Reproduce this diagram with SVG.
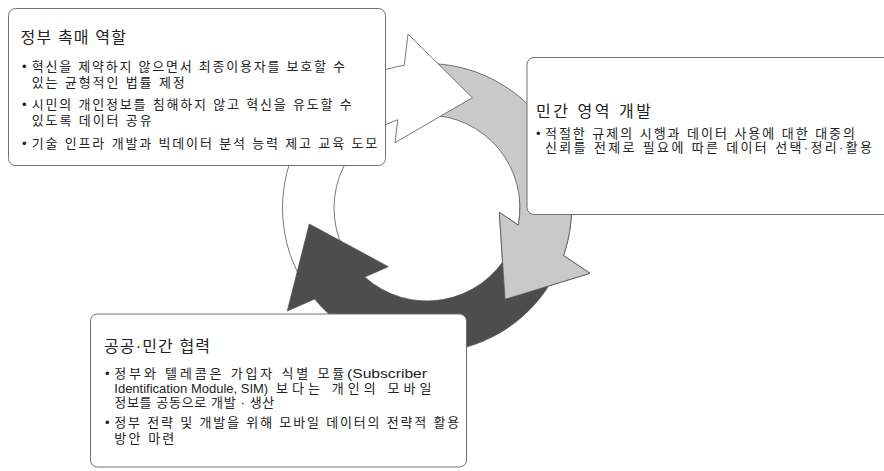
<svg xmlns="http://www.w3.org/2000/svg" width="884" height="471" viewBox="0 0 884 471">
<defs>
<style>
.box{fill:#ffffff;stroke:#707070;stroke-width:1}
.t{font-family:"Liberation Sans","Noto Sans CJK KR",sans-serif;fill:#222222}
.title{font-size:16px}
.body{font-size:13px}
.arr{stroke:#555555;stroke-width:0.8;stroke-linejoin:miter}
</style>
<path id="grayArrowShape" d="M563.5,255.5 A144.5,144.5 0 0 0 427,63.5 L427,115 A93,93 0 0 1 518.4,225.15 L499.3,212.3 L505,299.3 L590,273.3 Z"/>
<clipPath id="grayHeadClip"><polygon points="427,208 727,182 577,468"/></clipPath>
</defs>
<rect width="884" height="471" fill="#ffffff"/>
<g id="connectors">
<use href="#grayArrowShape" class="arr" fill="#c9c9c9"/>
<path id="white-arrow" class="arr" fill="#ffffff" d="M404.26,65.3 A144.5,144.5 0 0 0 304.46,284.57 L348.13,257.28 A93,93 0 0 1 397.75,119.72 L395,142.7 L472.3,97.7 L408,34 Z"/>
<path id="dark-arrow" class="arr" fill="#4d4d4d" d="M314.7,298.97 A144.5,144.5 0 0 0 554.59,275.84 L509.11,251.66 A93,93 0 0 1 364.7,277.05 L388.3,266.7 L309.3,224 L287.3,311 Z"/>
<use href="#grayArrowShape" class="arr" fill="#c9c9c9" clip-path="url(#grayHeadClip)"/>
</g>
<g id="node-gov">
<rect class="box" x="8.5" y="8.5" width="377" height="157" rx="7"/>
<text class="t title" x="20.5" y="43" textLength="105.5" lengthAdjust="spacing">정부 촉매 역할</text>
<text class="t body" x="22" y="70.5">•</text>
<text class="t body" x="31.7" y="70.5" textLength="313.3" lengthAdjust="spacing">혁신을 제약하지 않으면서 최종이용자를 보호할 수</text>
<text class="t body" x="31.7" y="86.5" textLength="153" lengthAdjust="spacing">있는 균형적인 법률 제정</text>
<text class="t body" x="22" y="108.8">•</text>
<text class="t body" x="31.7" y="108.8" textLength="320" lengthAdjust="spacing">시민의 개인정보를 침해하지 않고 혁신을  유도할 수</text>
<text class="t body" x="31.7" y="124.8" textLength="120" lengthAdjust="spacing">있도록 데이터 공유</text>
<text class="t body" x="22" y="147.5">•</text>
<text class="t body" x="31.7" y="147.5" textLength="345.5" lengthAdjust="spacing">기술 인프라 개발과 빅데이터 분석 능력 제고 교육 도모</text>
</g>
<g id="node-private">
<rect class="box" x="527" y="57.5" width="380" height="157" rx="7"/>
<text class="t title" x="536" y="116.5" textLength="115" lengthAdjust="spacing">민간 영역 개발</text>
<text class="t body" x="536" y="138">•</text>
<text class="t body" x="545" y="138" textLength="310" lengthAdjust="spacing">적절한 규제의 시행과 데이터 사용에 대한 대중의</text>
<text class="t body" x="545" y="152" textLength="327" lengthAdjust="spacing">신뢰를 전제로 필요에 따른 데이터 선택·정리·활용</text>
</g>
<g id="node-coop">
<rect class="box" x="90.5" y="314" width="376" height="153" rx="7"/>
<text class="t title" x="104" y="351.5" textLength="106" lengthAdjust="spacing">공공·민간 협력</text>
<text class="t body" x="105" y="378">•</text>
<text class="t body" x="114.3" y="378" textLength="230" lengthAdjust="spacing">정부와 텔레콤은 가입자 식별 모듈</text>
<text class="t body" x="347" y="378" textLength="80" lengthAdjust="spacingAndGlyphs">(Subscriber</text>
<text class="t body" x="114.3" y="392.6">Identification Module, SIM)</text>
<text class="t body" x="276" y="392.6" textLength="155.5" lengthAdjust="spacing">보다는 개인의 모바일</text>
<text class="t body" x="114.3" y="407" textLength="160" lengthAdjust="spacing">정보를 공동으로 개발 · 생산</text>
<text class="t body" x="105" y="427.2">•</text>
<text class="t body" x="114.3" y="427.2" textLength="345" lengthAdjust="spacing">정부 전략 및 개발을 위해 모바일 데이터의 전략적 활용</text>
<text class="t body" x="114.3" y="443.2" textLength="60" lengthAdjust="spacing">방안 마련</text>
</g>
</svg>
